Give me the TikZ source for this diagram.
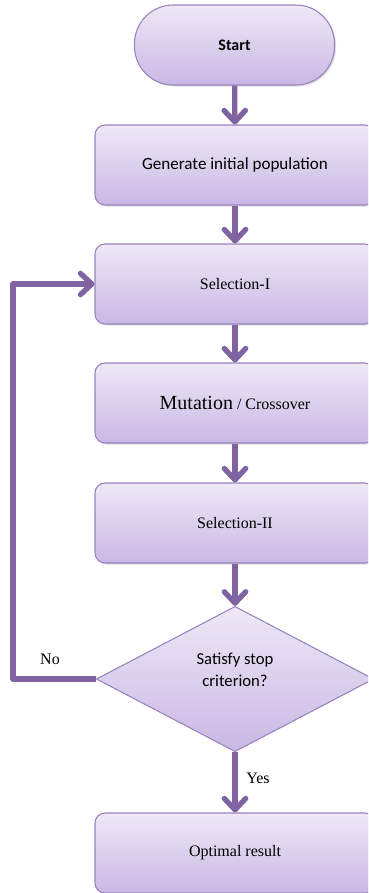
\documentclass[tikz,border=0pt]{standalone}
\usepackage{fontspec}
\setmainfont{Liberation Serif}
\newfontfamily\calibri{Carlito}
\usetikzlibrary{shapes.geometric, arrows.meta, shadows}

\definecolor{flowline}{HTML}{8064A2}
\definecolor{flowtop}{HTML}{EEE8F6}
\definecolor{flowbot}{HTML}{C9B8E4}
\definecolor{flowedge}{HTML}{9A82BE}

\begin{document}
\begin{tikzpicture}[x=0.75pt, y=-0.75pt,
	stepbox/.style={rectangle, rounded corners=7.5pt, draw=flowedge, line width=0.8pt, top color=flowtop, bottom color=flowbot, minimum width=210pt, minimum height=60pt, align=center, font=\fontsize{12}{14}\selectfont, drop shadow={shadow xshift=1.2pt, shadow yshift=-1.2pt, opacity=0.25}},
	terminal/.style={stepbox, rounded corners=29pt, minimum width=150pt},
	decision/.style={diamond, draw=flowedge, line width=0.8pt, top color=flowtop, bottom color=flowbot, minimum width=208pt, minimum height=109pt, inner sep=0pt, align=center, font=\calibri\fontsize{12.5}{17}\selectfont},
	flow/.style={draw=flowline, line width=4pt, -{Straight Barb[length=8.5pt, width=16pt, line cap=round, line join=round]}},
	lbl/.style={font=\fontsize{12}{14}\selectfont}]
	\clip (0,0) rectangle (368,893);
	\node[terminal, font=\calibri\bfseries\fontsize{12}{14}\selectfont] (start) at (234.5,45) {Start};
	\node[stepbox, font=\calibri\fontsize{12.8}{15}\selectfont] (init) at (235,165) {Generate initial population};
	\node[stepbox] (sel1) at (235,284) {Selection-I};
	\node[stepbox] (mut) at (235,403) {{\fontsize{15}{17}\selectfont Mutation} / Crossover};
	\node[stepbox] (sel2) at (235,523) {Selection-II};
	\node[decision] (stop) at (235,679) {Satisfy stop\\criterion?\\[-3pt]\mbox{}};
	\node[stepbox] (opt) at (235,853) {Optimal result};
	\coordinate (back) at (13,679);
	% main path
	\draw[flow] (start) -- (init);
	\draw[flow] (init) -- (sel1);
	\draw[flow] (sel1) -- (mut);
	\draw[flow] (mut) -- (sel2);
	\draw[flow] (sel2) -- (stop);
	\draw[flow] (stop) -- (opt);
	% loop back
	\draw[flow, line join=round] (stop.west) -- (back) |- (sel1.west);
	\node[lbl] (no) at (50,659) {No};
	\node[lbl] (yes) at (258,778) {Yes};
\end{tikzpicture}
\end{document}
